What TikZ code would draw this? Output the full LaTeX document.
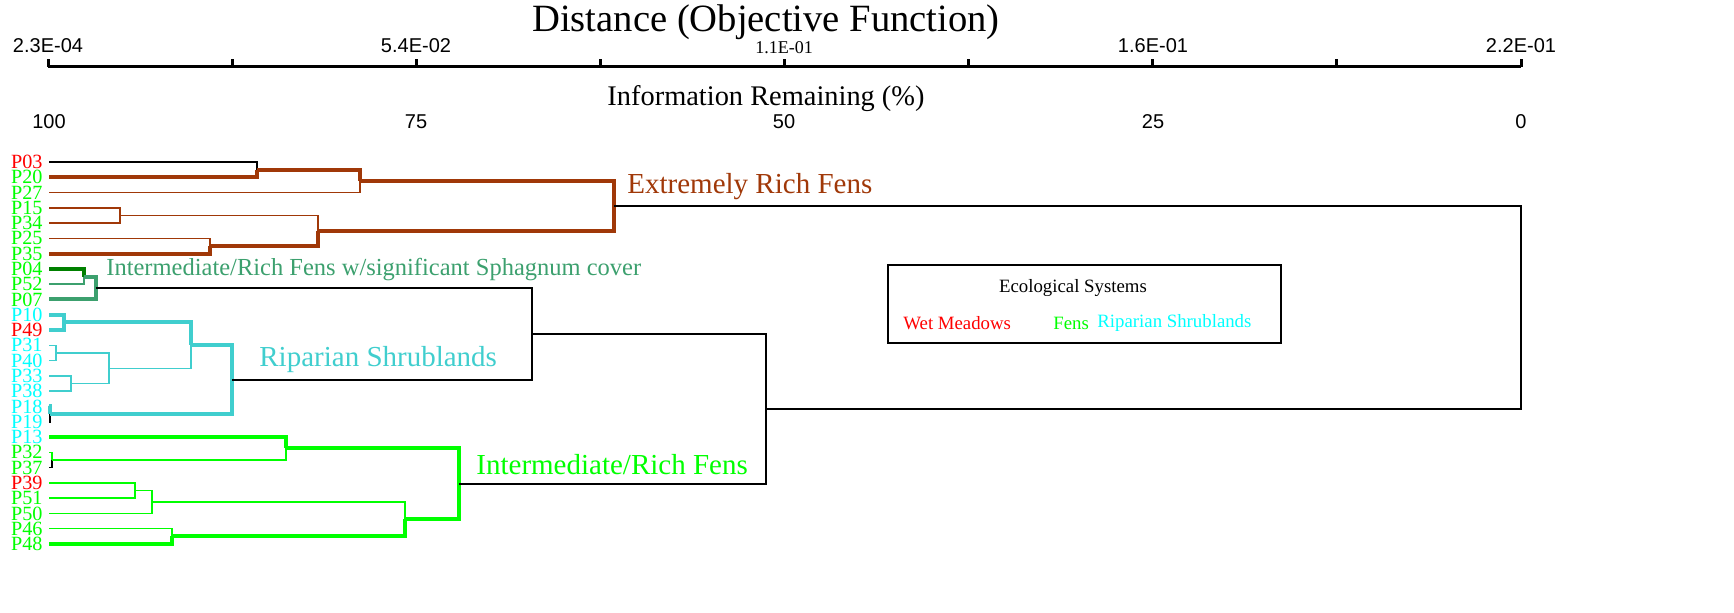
\documentclass[tikz,border=0pt]{standalone}
\usepackage{fontspec}
\setmainfont{Liberation Serif}
\newfontfamily\arialfont{Liberation Sans}
\usepackage{xcolor}
\usepackage{tikz}

\definecolor{fenbrown}{RGB}{160,56,8}
\definecolor{fengreen}{RGB}{0,255,0}
\definecolor{sphgreen}{RGB}{60,160,110}
\definecolor{darkfen}{RGB}{0,128,0}
\definecolor{ripcyan}{RGB}{64,206,206}
\definecolor{leafcyan}{RGB}{0,255,255}

\begin{document}
\begin{tikzpicture}[x=0.5pt,y=0.5pt,yscale=-1,xscale=1,
  leaf/.style={anchor=east,inner xsep=3pt,inner ysep=0pt,font=\fontsize{10.1}{10.1}\selectfont},
  thin/.style={line width=0.75pt},
  thick/.style={line width=2pt},
  blk/.style={thin,black},
  grouplabel/.style={anchor=west,inner sep=0pt,font=\fontsize{14.5}{14.5}\selectfont}]
\useasboundingbox (0,0) rectangle (1734,613);

%Axes
\draw [line width=1.5pt] (48,67) -- (1521,67);
\draw [line width=1.5pt] (48,67) -- (48,59) (232.1,67) -- (232.1,59) (416.3,67) -- (416.3,59) (600.4,67) -- (600.4,59) (784.5,67) -- (784.5,59) (968.6,67) -- (968.6,59) (1152.8,67) -- (1152.8,59) (1336.9,67) -- (1336.9,59) (1521,67) -- (1521,59);

% Text Node
\node (title) at (766,22) [font=\fontsize{19.3}{19.3}\selectfont] {Distance (Objective Function)};
\node (info) at (766,99) [font=\fontsize{14.2}{14.2}\selectfont] {Information Remaining (\%)};
\node (d0) at (48,46) [font=\arialfont\fontsize{10}{10}\selectfont] {2.3E-04};
\node (d2) at (416,46) [font=\arialfont\fontsize{10}{10}\selectfont] {5.4E-02};
\node (d4) at (784,48) [font=\fontsize{9}{9}\selectfont] {1.1E-01};
\node (d6) at (1153,46) [font=\arialfont\fontsize{10}{10}\selectfont] {1.6E-01};
\node (d8) at (1521,46) [font=\arialfont\fontsize{10}{10}\selectfont] {2.2E-01};
\node (i0) at (49,122) [font=\arialfont\fontsize{10}{10}\selectfont] {100};
\node (i2) at (416,122) [font=\arialfont\fontsize{10}{10}\selectfont] {75};
\node (i4) at (784,122) [font=\arialfont\fontsize{10}{10}\selectfont] {50};
\node (i6) at (1153,122) [font=\arialfont\fontsize{10}{10}\selectfont] {25};
\node (i8) at (1521,122) [font=\arialfont\fontsize{10}{10}\selectfont] {0};

%Leaves
\node [leaf,text=red] (P03) at (49,162.0) {P03};
\node [leaf,text=fengreen] (P20) at (49,177.3) {P20};
\node [leaf,text=fengreen] (P27) at (49,192.6) {P27};
\node [leaf,text=fengreen] (P15) at (49,207.8) {P15};
\node [leaf,text=fengreen] (P34) at (49,223.1) {P34};
\node [leaf,text=fengreen] (P25) at (49,238.4) {P25};
\node [leaf,text=fengreen] (P35) at (49,253.7) {P35};
\node [leaf,text=fengreen] (P04) at (49,269.0) {P04};
\node [leaf,text=fengreen] (P52) at (49,284.2) {P52};
\node [leaf,text=fengreen] (P07) at (49,299.5) {P07};
\node [leaf,text=leafcyan] (P10) at (49,314.8) {P10};
\node [leaf,text=red] (P49) at (49,330.1) {P49};
\node [leaf,text=leafcyan] (P31) at (49,345.4) {P31};
\node [leaf,text=leafcyan] (P40) at (49,360.6) {P40};
\node [leaf,text=leafcyan] (P33) at (49,375.9) {P33};
\node [leaf,text=leafcyan] (P38) at (49,391.2) {P38};
\node [leaf,text=leafcyan] (P18) at (49,406.5) {P18};
\node [leaf,text=leafcyan] (P19) at (49,421.8) {P19};
\node [leaf,text=leafcyan] (P13) at (49,437.0) {P13};
\node [leaf,text=fengreen] (P32) at (49,452.3) {P32};
\node [leaf,text=fengreen] (P37) at (49,467.6) {P37};
\node [leaf,text=red] (P39) at (49,482.9) {P39};
\node [leaf,text=fengreen] (P51) at (49,498.2) {P51};
\node [leaf,text=fengreen] (P50) at (49,513.4) {P50};
\node [leaf,text=fengreen] (P46) at (49,528.7) {P46};
\node [leaf,text=fengreen] (P48) at (49,544.0) {P48};

%Merge points
\coordinate (jA) at (257,169.7);
\coordinate (jB) at (360,181.1);
\coordinate (jC) at (120,215.5);
\coordinate (jC2) at (210,246.0);
\coordinate (jD) at (318,230.8);
\coordinate (jE) at (614,206.0);
\coordinate (jF) at (84,276.6);
\coordinate (jG) at (96,288.0);
\coordinate (jH) at (64,322.5);
\coordinate (jI1) at (56,353.0);
\coordinate (jI2) at (71,383.6);
\coordinate (jI) at (109,368.3);
\coordinate (jJ) at (191,345.4);
\coordinate (jR) at (50,414.1);
\coordinate (jJ2) at (232,379.8);
\coordinate (jK) at (532,333.9);
\coordinate (jM) at (52,460.0);
\coordinate (jN) at (286,448.5);
\coordinate (jO) at (135,490.6);
\coordinate (jP) at (152,502.0);
\coordinate (jQ) at (172,536.4);
\coordinate (jS) at (405,519.2);
\coordinate (jT) at (459,483.8);
\coordinate (jL) at (766,408.9);
\coordinate (root) at (1521,307.4);

%Extremely rich fens
\draw [blk] (P03.east) -| (jA);
\draw [thick,fenbrown] (P20.east) -| (jA);
\draw [thick,fenbrown] (jA) -| (jB);
\draw [thin,fenbrown] (P27.east) -| (jB);
\draw [thin,fenbrown] (P15.east) -| (jC);
\draw [thin,fenbrown] (P34.east) -| (jC);
\draw [thin,fenbrown] (jC) -| (jD);
\draw [thin,fenbrown] (P25.east) -| (jC2);
\draw [thick,fenbrown] (P35.east) -| (jC2);
\draw [thick,fenbrown] (jC2) -| (jD);
\draw [thick,fenbrown] (jB) -| (jE);
\draw [thick,fenbrown] (jD) -| (jE);
\draw [blk] (jE) -| (root);

%Sphagnum fens
\draw [thick,darkfen] (P04.east) -| (jF);
\draw [thin,sphgreen] (P52.east) -| (jF);
\draw [thick,sphgreen] (jF) -| (jG);
\draw [thick,sphgreen] (P07.east) -| (jG);
\draw [blk] (jG) -| (jK);

%Riparian shrublands
\draw [thick,ripcyan] (P10.east) -| (jH);
\draw [thick,ripcyan] (P49.east) -| (jH);
\draw [thick,ripcyan] (jH) -| (jJ);
\draw [thin,ripcyan] (P31.east) -| (jI1);
\draw [thin,ripcyan] (P40.east) -| (jI1);
\draw [thin,ripcyan] (P33.east) -| (jI2);
\draw [thin,ripcyan] (P38.east) -| (jI2);
\draw [thin,ripcyan] (jI1) -| (jI);
\draw [thin,ripcyan] (jI2) -| (jI);
\draw [thin,ripcyan] (jI) -| (jJ);
\draw [thick,ripcyan] (jJ) -| (jJ2);
\draw [blk] (P19.east) -| (jR);
\draw [thick,ripcyan] (P18.east) -| (jR);
\draw [thick,ripcyan] (jR) -| (jJ2);
\draw [blk] (jJ2) -| (jK);
\draw [blk] (jK) -| (jL);

%Intermediate/rich fens
\draw [thick,fengreen] (P13.east) -| (jN);
\draw [blk] (P37.east) -| (jM);
\draw [thin,fengreen] (P32.east) -| (jM);
\draw [thin,fengreen] (jM) -| (jN);
\draw [thick,fengreen] (jN) -| (jT);
\draw [thin,fengreen] (P39.east) -| (jO);
\draw [thin,fengreen] (P51.east) -| (jO);
\draw [thin,fengreen] (jO) -| (jP);
\draw [thin,fengreen] (P50.east) -| (jP);
\draw [thin,fengreen] (jP) -| (jS);
\draw [thin,fengreen] (P46.east) -| (jQ);
\draw [thick,fengreen] (P48.east) -| (jQ);
\draw [thick,fengreen] (jQ) -| (jS);
\draw [thick,fengreen] (jS) -| (jT);
\draw [blk] (jT) -| (jL);
\draw [blk] (jL) -| (root);

% Text Node
\node [grouplabel,text=fenbrown] (erf) at (627,187) {Extremely Rich Fens};
\node [grouplabel,text=sphgreen,font=\fontsize{12.25}{12.25}\selectfont] (sph) at (106,270) {Intermediate/Rich Fens w/significant Sphagnum cover};
\node [grouplabel,text=ripcyan] (rip) at (259,360) {Riparian Shrublands};
\node [grouplabel,text=fengreen] (irf) at (476,465) {Intermediate/Rich Fens};

%Legend
\node [draw,thin,minimum width=196.5pt,minimum height=39pt,inner sep=0pt] (legend) at (1084.5,304) {};
\node (lgtitle) at (1073,288) [font=\fontsize{9.4}{9.4}\selectfont] {Ecological Systems};
\node [anchor=west,inner sep=0pt,text=red,font=\fontsize{9.4}{9.4}\selectfont] (lgwet) at (903,323) {Wet Meadows};
\node [anchor=west,inner sep=0pt,text=fengreen,font=\fontsize{9.4}{9.4}\selectfont] (lgfen) at (1053,323) {Fens};
\node [anchor=west,inner sep=0pt,text=leafcyan,font=\fontsize{9.4}{9.4}\selectfont] (lgrip) at (1097,323) {Riparian Shrublands};

\end{tikzpicture}
\end{document}
